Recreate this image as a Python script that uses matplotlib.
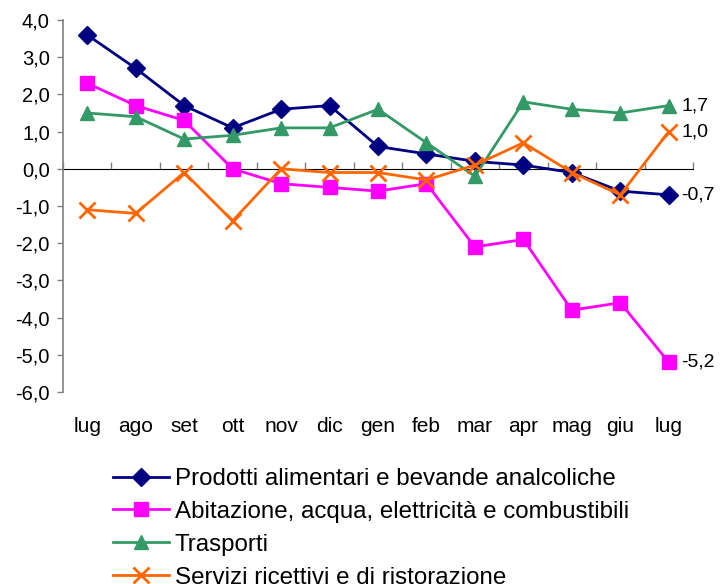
import matplotlib
matplotlib.use("Agg")
import matplotlib.pyplot as plt

plt.rcParams['font.family'] = ['Liberation Sans', 'DejaVu Sans']

months = ["lug", "ago", "set", "ott", "nov", "dic", "gen", "feb", "mar", "apr", "mag", "giu", "lug"]
prodotti = [3.6, 2.7, 1.7, 1.1, 1.6, 1.7, 0.6, 0.4, 0.2, 0.1, -0.1, -0.6, -0.7]
abitazione = [2.3, 1.7, 1.3, 0.0, -0.4, -0.5, -0.6, -0.4, -2.1, -1.9, -3.8, -3.6, -5.2]
trasporti = [1.5, 1.4, 0.8, 0.9, 1.1, 1.1, 1.6, 0.7, -0.2, 1.8, 1.6, 1.5, 1.7]
servizi = [-1.1, -1.2, -0.1, -1.4, 0.0, -0.1, -0.1, -0.3, 0.1, 0.7, -0.1, -0.7, 1.0]
labels = ["Prodotti alimentari e bevande analcoliche",
          "Abitazione, acqua, elettricità e combustibili",
          "Trasporti",
          "Servizi ricettivi e di ristorazione"]
yticks = [4, 3, 2, 1, 0, -1, -2, -3, -4, -5, -6]

fig = plt.figure(figsize=(7.2, 5.84), dpi=100)
ax = fig.add_axes([63/720, 1-392/584, 630/720, 372/584])
x = list(range(len(months)))

series = [
    (prodotti, "#000080", "D", 9),
    (abitazione, "#FF00FF", "s", 10),
    (trasporti, "#339966", "^", 10),
    (servizi, "#FF6600", "x", 11),
]
handles = []
for (vals, col, mk, ms), lab in zip(series, labels):
    mew = 2 if mk == "x" else 1
    h, = ax.plot(x, vals, color=col, lw=2, marker=mk, markersize=ms,
                 markeredgecolor=col, markerfacecolor=col, markeredgewidth=mew,
                 label=lab, clip_on=False, zorder=3)
    handles.append(h)

# end labels
for vals in (trasporti, servizi, prodotti, abitazione):
    v = vals[-1]
    ax.annotate(f"{v:.1f}".replace(".", ","), (x[-1], v), xytext=(9, 0),
                textcoords="offset points", va="center", ha="left", fontsize=14)

ax.set_xlim(-0.5, len(months) - 0.5)
ax.set_ylim(-6, 4)
ax.set_yticks(yticks)
ax.set_yticklabels([f"{t:.1f}".replace(".", ",") for t in yticks], fontsize=14.5)
ax.tick_params(axis='y', direction='out', length=4.5, color='#808080', width=1, pad=5)
for s in ("top", "right", "bottom"):
    ax.spines[s].set_visible(False)
ax.spines["left"].set_color("#808080")
ax.spines["left"].set_linewidth(1.2)

ax.set_xticks(x)
ax.set_xticklabels(months, fontsize=15)
ax.tick_params(axis='x', length=0, pad=18)

# zero axis with category ticks
frac0 = (0 - (-6)) / (4 - (-6))
sec = ax.secondary_xaxis(frac0)
sec.set_xticks([i - 0.5 for i in range(len(months) + 1)])
sec.set_xticklabels([])
sec.tick_params(axis='x', direction='out', length=5, color='#808080', width=1)
sec.spines["bottom"].set_color("#808080")
sec.spines["bottom"].set_linewidth(1.2)

leg = fig.legend(handles=handles, labels=labels, loc="upper left",
                 bbox_to_anchor=(113/720, 1-468/584), frameon=False,
                 fontsize=17.4, handlelength=2.3, handletextpad=0.25,
                 labelspacing=0.45, borderaxespad=0, borderpad=0)

fig.savefig("out.png", dpi=100)
